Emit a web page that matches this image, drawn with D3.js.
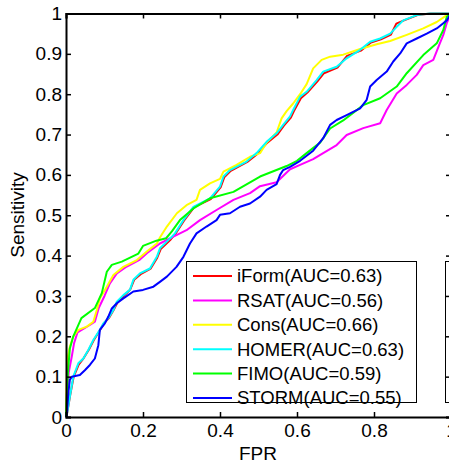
<!DOCTYPE html>
<html>
<head>
<meta charset="utf-8">
<script src="https://cdn.jsdelivr.net/npm/d3@7"></script>
<style>
  body { margin: 0; background: #fff; }
  svg text { font-family: "Liberation Sans", Arial, sans-serif; fill: #000; }
</style>
</head>
<body>
<svg id="chart"></svg>
<script>
// ---- data ----
const seriesNames = ['iForm', 'RSAT', 'Cons', 'HOMER', 'FIMO', 'STORM'];
const aucValues = ['0.63', '0.56', '0.66', '0.63', '0.59', '0.55'];
const seriesColors = ['#ff0000', '#ff00ff', '#ffff00', '#00ffff', '#00ff00', '#0000ff'];
const xTicks = [0, 0.2, 0.4, 0.6, 0.8, 1];
const yTicks = [0, 0.1, 0.2, 0.3, 0.4, 0.5, 0.6, 0.7, 0.8, 0.9, 1];

// [FPR, TPR]
const iformPts = [[0,0],[0.003,0.01],[0.011,0.055],[0.02,0.1],[0.033,0.13],[0.046,0.146],[0.06,0.168],[0.072,0.19],[0.09,0.218],[0.099,0.233],[0.112,0.246],[0.124,0.266],[0.134,0.284],[0.15,0.3],[0.167,0.316],[0.177,0.34],[0.194,0.354],[0.22,0.368],[0.237,0.395],[0.246,0.416],[0.272,0.44],[0.285,0.455],[0.306,0.486],[0.333,0.52],[0.376,0.54],[0.402,0.57],[0.411,0.594],[0.428,0.61],[0.471,0.632],[0.497,0.652],[0.523,0.68],[0.549,0.7],[0.566,0.722],[0.584,0.742],[0.592,0.758],[0.61,0.79],[0.627,0.804],[0.653,0.832],[0.67,0.852],[0.705,0.866],[0.73,0.895],[0.766,0.908],[0.792,0.928],[0.818,0.936],[0.844,0.948],[0.858,0.975],[0.878,0.983],[0.913,0.996],[0.947,1],[1,1]];
const rsatPts = [[0,0],[0.003,0.05],[0.007,0.11],[0.015,0.15],[0.021,0.183],[0.03,0.21],[0.062,0.228],[0.075,0.236],[0.085,0.27],[0.1,0.3],[0.114,0.331],[0.132,0.356],[0.158,0.373],[0.192,0.39],[0.21,0.406],[0.244,0.43],[0.279,0.447],[0.313,0.463],[0.348,0.488],[0.391,0.513],[0.435,0.538],[0.478,0.555],[0.504,0.572],[0.547,0.582],[0.582,0.614],[0.608,0.625],[0.642,0.639],[0.668,0.654],[0.703,0.674],[0.729,0.699],[0.772,0.716],[0.816,0.728],[0.833,0.761],[0.859,0.802],[0.885,0.823],[0.911,0.848],[0.928,0.872],[0.954,0.885],[0.971,0.926],[0.98,0.947],[0.989,0.976],[1,1]];
const consPts = [[0,0],[0.001,0.06],[0.003,0.141],[0.01,0.174],[0.019,0.2],[0.032,0.216],[0.054,0.224],[0.071,0.236],[0.08,0.265],[0.088,0.294],[0.106,0.323],[0.123,0.352],[0.149,0.372],[0.184,0.389],[0.21,0.41],[0.236,0.43],[0.244,0.445],[0.262,0.472],[0.288,0.505],[0.313,0.525],[0.339,0.538],[0.348,0.563],[0.374,0.579],[0.4,0.59],[0.409,0.608],[0.443,0.625],[0.478,0.645],[0.504,0.654],[0.521,0.68],[0.547,0.705],[0.56,0.74],[0.573,0.758],[0.59,0.777],[0.608,0.8],[0.625,0.825],[0.642,0.864],[0.664,0.885],[0.686,0.893],[0.72,0.898],[0.764,0.912],[0.807,0.924],[0.842,0.932],[0.885,0.947],[0.928,0.963],[0.963,0.979],[0.989,0.996],[1,1]];
const homerPts = [[0,0],[0.002,0.005],[0.01,0.05],[0.019,0.1],[0.032,0.133],[0.045,0.145],[0.058,0.166],[0.071,0.191],[0.088,0.216],[0.097,0.232],[0.11,0.245],[0.123,0.265],[0.132,0.286],[0.149,0.302],[0.166,0.315],[0.175,0.34],[0.192,0.356],[0.218,0.368],[0.236,0.397],[0.244,0.418],[0.27,0.442],[0.283,0.455],[0.305,0.488],[0.331,0.521],[0.374,0.542],[0.4,0.571],[0.409,0.596],[0.426,0.612],[0.469,0.633],[0.495,0.654],[0.521,0.682],[0.547,0.703],[0.564,0.724],[0.582,0.745],[0.59,0.761],[0.608,0.794],[0.625,0.806],[0.651,0.835],[0.668,0.856],[0.703,0.868],[0.729,0.889],[0.764,0.91],[0.79,0.93],[0.816,0.938],[0.842,0.95],[0.859,0.967],[0.876,0.983],[0.911,0.996],[0.945,1],[1,1]];
const fimoPts = [[0,0],[0.002,0.05],[0.005,0.11],[0.01,0.17],[0.019,0.2],[0.04,0.245],[0.075,0.27],[0.093,0.307],[0.106,0.36],[0.119,0.377],[0.145,0.385],[0.188,0.405],[0.2,0.424],[0.235,0.437],[0.26,0.443],[0.275,0.46],[0.296,0.488],[0.331,0.517],[0.374,0.542],[0.435,0.558],[0.504,0.596],[0.573,0.622],[0.6,0.635],[0.625,0.654],[0.66,0.68],[0.686,0.715],[0.72,0.735],[0.772,0.773],[0.816,0.79],[0.859,0.819],[0.885,0.852],[0.928,0.897],[0.963,0.926],[0.98,0.959],[0.989,0.992],[1,1]];
const stormPts = [[0,0],[0.002,0.005],[0.006,0.059],[0.01,0.092],[0.015,0.1],[0.036,0.104],[0.049,0.116],[0.062,0.129],[0.075,0.145],[0.084,0.178],[0.088,0.216],[0.101,0.232],[0.11,0.249],[0.119,0.269],[0.132,0.282],[0.149,0.294],[0.175,0.311],[0.2,0.315],[0.227,0.323],[0.244,0.335],[0.262,0.348],[0.287,0.372],[0.305,0.397],[0.322,0.43],[0.339,0.455],[0.365,0.472],[0.391,0.488],[0.4,0.501],[0.426,0.505],[0.452,0.521],[0.478,0.529],[0.504,0.546],[0.521,0.563],[0.547,0.577],[0.556,0.6],[0.564,0.612],[0.582,0.62],[0.608,0.635],[0.642,0.66],[0.668,0.691],[0.686,0.724],[0.703,0.736],[0.729,0.748],[0.764,0.765],[0.781,0.786],[0.79,0.819],[0.807,0.835],[0.833,0.856],[0.85,0.881],[0.868,0.901],[0.885,0.926],[0.911,0.938],[0.937,0.95],[0.963,0.963],[0.98,0.976],[0.989,0.983],[1,1]];

const seriesPts = [iformPts, rsatPts, consPts, homerPts, fimoPts, stormPts];

// ---- layout ----
const width = 449, height = 471;
const plot = {left: 66, right: 451, top: 13.5, bottom: 417};

const svg = d3.select('#chart')
    .attr('width', width)
    .attr('height', height);

const x = d3.scaleLinear().domain([0, 1]).range([plot.left, plot.right]);
const y = d3.scaleLinear().domain([0, 1]).range([plot.bottom, plot.top]);

const line = d3.line()
    .x(d => x(d[0]))
    .y(d => y(d[1]));

// curves, drawn in legend order so later ones sit on top
svg.append('g').selectAll('path')
    .data(seriesPts)
    .join('path')
    .attr('d', d => line(d))
    .attr('fill', 'none')
    .attr('stroke', (d, i) => seriesColors[i])
    .attr('stroke-width', 2)
    .attr('stroke-linejoin', 'round');

// axes (MATLAB style: box on, ticks pointing inward)
const fmt = d => String(d);

const xAxis = svg.append('g')
    .attr('transform', `translate(0,${plot.bottom})`)
    .call(d3.axisBottom(x).tickValues(xTicks).tickSize(-5).tickPadding(7).tickFormat(fmt));

const yAxis = svg.append('g')
    .attr('transform', `translate(${plot.left},0)`)
    .call(d3.axisLeft(y).tickValues(yTicks).tickSize(-5).tickPadding(4).tickFormat(fmt));

const xTop = svg.append('g')
    .attr('transform', `translate(0,${plot.top})`)
    .call(d3.axisTop(x).tickValues(xTicks).tickSize(-5).tickFormat(''));

const yRight = svg.append('g')
    .attr('transform', `translate(${plot.right},0)`)
    .call(d3.axisRight(y).tickValues(yTicks).tickSize(-5).tickFormat(''));

[xAxis, yAxis, xTop, yRight].forEach(g => {
  g.select('.domain').attr('stroke', '#000').attr('stroke-width', 2);
  g.selectAll('.tick line').attr('stroke', '#000').attr('stroke-width', 1.5);
  g.selectAll('.tick text')
      .style('font-family', '"Liberation Sans", Arial, sans-serif')
      .style('font-size', '19px')
      .attr('fill', '#000');
});

// axis titles
svg.append('text')
    .attr('x', 258)
    .attr('y', 460)
    .attr('text-anchor', 'middle')
    .style('font-size', '19px')
    .text('FPR');

svg.append('text')
    .attr('transform', 'translate(24,215) rotate(-90)')
    .attr('text-anchor', 'middle')
    .style('font-size', '19px')
    .text('Sensitivity');

// legend
const legend = svg.append('g');
legend.append('rect')
    .attr('x', 186.5).attr('y', 261.5)
    .attr('width', 230).attr('height', 141)
    .attr('fill', '#fff')
    .attr('stroke', '#000')
    .attr('stroke-width', 1);

const rows = legend.selectAll('g.row')
    .data(seriesNames)
    .join('g')
    .attr('class', 'row')
    .attr('transform', (d, i) => `translate(0,${276 + i * 24.4})`);

rows.append('line')
    .attr('x1', 193).attr('x2', 232)
    .attr('stroke', (d, i) => seriesColors[i])
    .attr('stroke-width', 2);

rows.append('text')
    .attr('x', 237)
    .attr('dy', '0.35em')
    .style('font-size', '18.5px')
    .text((d, i) => `${d}(AUC=${aucValues[i]})`);

// edge of a neighbouring legend box cut off at the right border
svg.append('rect')
    .attr('x', 445.5).attr('y', 261.5)
    .attr('width', 40).attr('height', 141)
    .attr('fill', 'none')
    .attr('stroke', '#000')
    .attr('stroke-width', 1);
</script>
</body>
</html>
